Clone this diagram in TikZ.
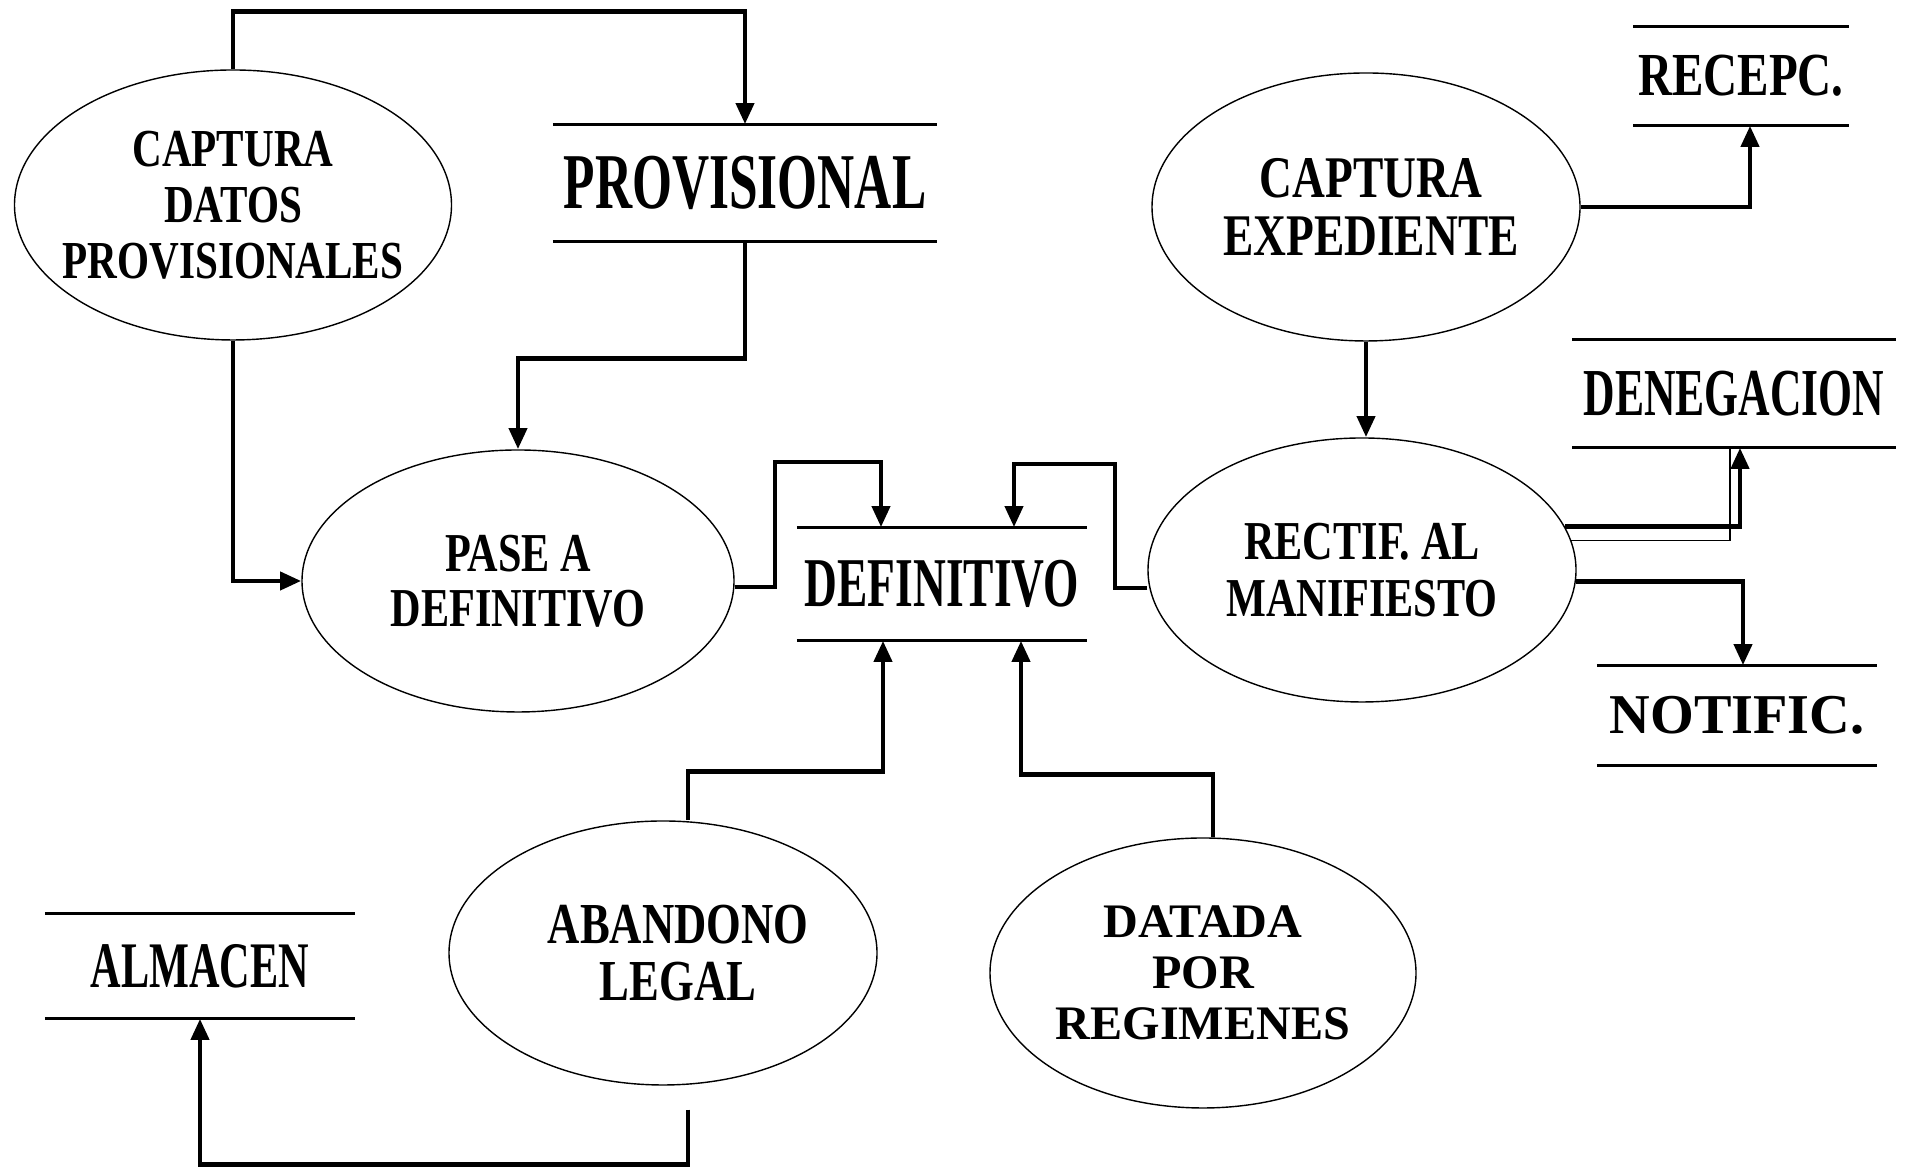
\documentclass[tikz,border=0pt]{standalone}
\usepackage{fontspec}
\setmainfont{Liberation Serif}
\newfontfamily\narrowfont[FakeStretch=0.65]{Liberation Serif}
\newfontfamily\midfont[FakeStretch=0.77]{Liberation Serif}
\usetikzlibrary{shapes.geometric,arrows.meta}

\tikzset{
  proc/.style={draw, ellipse, line width=0.4pt, inner sep=0pt},
  store/.style={inner sep=0pt},
  storeline/.style={line width=0.7pt},
  flow/.style={line width=1.4pt, -{Triangle[length=6pt,width=5pt]}},
  dbl/.style={line width=0.5pt}
}

\begin{document}
\begin{tikzpicture}
\useasboundingbox (0,0) rectangle (19.05,11.70);

% procesos
\node[proc, minimum width=4.37cm, minimum height=2.70cm,
  label={[align=center, font=\midfont\bfseries\fontsize{15.2}{15.9}\selectfont]center:CAPTURA\\DATOS\\PROVISIONALES}] (cdp) at (2.33,9.65) {};
\node[proc, minimum width=4.32cm, minimum height=2.62cm,
  label={[align=center, font=\midfont\bfseries\fontsize{15.6}{15.6}\selectfont]center:PASE A\\DEFINITIVO}] (pase) at (5.18,5.89) {};
\node[proc, minimum width=4.28cm, minimum height=2.68cm,
  label={[align=center, xshift=0.5mm, font=\midfont\bfseries\fontsize{16.8}{16.5}\selectfont]center:CAPTURA\\EXPEDIENTE}] (cexp) at (13.66,9.63) {};
\node[proc, minimum width=4.28cm, minimum height=2.64cm,
  label={[align=center, font=\midfont\bfseries\fontsize{15.6}{16.2}\selectfont]center:RECTIF. AL\\MANIFIESTO}] (rect) at (13.62,6.00) {};
\node[proc, minimum width=4.28cm, minimum height=2.64cm,
  label={[align=center, xshift=1.5mm, font=\midfont\bfseries\fontsize{16.5}{16.2}\selectfont]center:ABANDONO\\LEGAL}] (aban) at (6.63,2.17) {};
\node[proc, minimum width=4.26cm, minimum height=2.70cm,
  label={[align=center, font=\bfseries\fontsize{13.7}{14.5}\selectfont]center:DATADA\\POR\\REGIMENES}] (datada) at (12.03,1.97) {};

% almacenes
\node[store, minimum width=3.83cm, minimum height=1.16cm, font=\narrowfont\bfseries\fontsize{22.5}{24}\selectfont] (prov) at (7.45,9.87) {PROVISIONAL};
\node[store, minimum width=2.89cm, minimum height=1.12cm, font=\narrowfont\bfseries\fontsize{19.9}{21}\selectfont] (defi) at (9.42,5.86) {DEFINITIVO};
\node[store, minimum width=2.14cm, minimum height=0.98cm, font=\midfont\bfseries\fontsize{17.4}{18}\selectfont] (recepc) at (17.41,10.94) {RECEPC.};
\node[store, minimum width=3.22cm, minimum height=1.07cm, font=\narrowfont\bfseries\fontsize{19.1}{20}\selectfont] (deneg) at (17.34,7.765) {DENEGACION};
\node[store, minimum width=2.79cm, minimum height=0.99cm, font=\bfseries\fontsize{16}{17}\selectfont] (notif) at (17.37,4.545) {NOTIFIC.};
\node[store, minimum width=3.09cm, minimum height=1.04cm, font=\narrowfont\bfseries\fontsize{18.5}{19}\selectfont] (almacen) at (2.00,2.04) {ALMACEN};

\foreach \s in {prov,defi,recepc,deneg,notif,almacen}
  \draw[storeline] (\s.north west) -- (\s.north east) (\s.south west) -- (\s.south east);

% flujos
\draw[flow] (cdp.north) -- ++(0,0.58) -| (prov.north);
\draw[flow] (prov.south) -- ++(0,-1.17) -| (pase.north);
\draw[flow] (cdp.south) |- (pase.west);
\draw[flow] ([yshift=-0.6mm]pase.east) -| (7.75,7.08) -| ([xshift=-6.1mm]defi.north);
\draw[flow] ([yshift=-1.8mm]rect.west) -| (11.15,7.06) -| ([xshift=7.2mm]defi.north);
\draw[flow] ([xshift=2.5mm]aban.north) -- ++(0,0.49) -| ([xshift=-5.9mm]defi.south);
\draw[flow] ([xshift=1mm]datada.north) -- ++(0,0.63) -| ([xshift=7.9mm]defi.south);
\draw[flow] (cexp.east) -| ([xshift=0.9mm]recepc.south);
\draw[flow] (cexp.south) -- (cexp.south |- rect.north);
\draw[flow] (rect.12) -| ([xshift=0.6mm]deneg.south);
\draw[dbl] (rect.8) -| ([xshift=-0.4mm]deneg.south);
\draw[flow] (rect.-3) -| ([xshift=0.6mm]notif.north);
\draw[flow] ([xshift=2.5mm,yshift=-2.4mm]aban.south) -- ++(0,-0.55) -| (almacen.south);
\end{tikzpicture}
\end{document}
